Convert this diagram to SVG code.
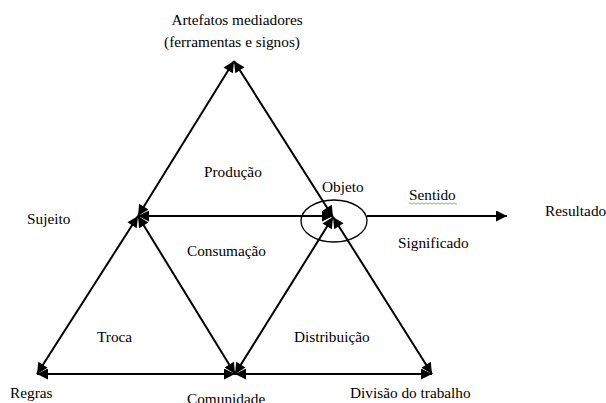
<svg xmlns="http://www.w3.org/2000/svg" width="606" height="403" viewBox="0 0 606 403">
<style>
.ln{stroke:#000;stroke-width:2;fill:none}
</style>
<defs>
<marker id="ah" viewBox="0 0 10 10" refX="10" refY="5" markerWidth="6" markerHeight="5.5" orient="auto-start-reverse" markerUnits="strokeWidth">
<path d="M0,0 L10,5 L0,10 z" fill="#000"/>
</marker>
</defs>
<rect width="606" height="403" fill="#fff"/>
<g id="connectors">
<line class="ln" x1="234" y1="61" x2="138" y2="216" marker-start="url(#ah)" marker-end="url(#ah)"/>
<line class="ln" x1="234" y1="61" x2="333" y2="217" marker-start="url(#ah)" marker-end="url(#ah)"/>
<line class="ln" x1="138" y1="216" x2="333" y2="216" marker-start="url(#ah)" marker-end="url(#ah)"/>
<line class="ln" x1="138" y1="216" x2="37" y2="374" marker-start="url(#ah)" marker-end="url(#ah)"/>
<line class="ln" x1="138" y1="216" x2="235" y2="374" marker-start="url(#ah)" marker-end="url(#ah)"/>
<line class="ln" x1="333" y1="217" x2="235" y2="374" marker-start="url(#ah)" marker-end="url(#ah)"/>
<line class="ln" x1="333" y1="217" x2="432" y2="374" marker-start="url(#ah)" marker-end="url(#ah)"/>
<line class="ln" x1="37" y1="374" x2="235" y2="374" marker-start="url(#ah)" marker-end="url(#ah)"/>
<line class="ln" x1="235" y1="374" x2="432" y2="374" marker-start="url(#ah)" marker-end="url(#ah)"/>
<line class="ln" x1="367" y1="216" x2="507" y2="216" marker-end="url(#ah)"/>
</g>
<g font-family="'Liberation Serif', 'Times New Roman', Times, 'DejaVu Serif', serif" font-size="15.3" fill="#000">
<g id="artefatos">
<text x="237" y="25" text-anchor="middle">Artefatos mediadores</text>
<text x="232" y="47" text-anchor="middle">(ferramentas e signos)</text>
</g>
<g id="objeto">
<ellipse cx="334" cy="221" rx="33" ry="21" fill="none" stroke="#000" stroke-width="1.3"/>
<text x="322" y="192">Objeto</text>
</g>
<g id="sujeito"><text x="27" y="224">Sujeito</text></g>
<g id="regras"><text x="10" y="398">Regras</text></g>
<g id="comunidade"><text x="187" y="404">Comunidade</text></g>
<g id="divisao"><text x="350" y="398">Divisão do trabalho</text></g>
<g id="resultado"><text x="545" y="216">Resultado</text></g>
<g id="labels">
<text x="204" y="177">Produção</text>
<text x="409" y="200">Sentido</text>
<path d="M409,203.5 q1,-1.5 2,0 t2,0 t2,0 t2,0 t2,0 t2,0 t2,0 t2,0 t2,0 t2,0 t2,0 t2,0 t2,0 t2,0 t2,0 t2,0 t2,0 t2,0 t2,0 t2,0 t2,0 t2,0 t2,0 t2,0" fill="none" stroke="#4caf50" stroke-width="0.8"/>
<text x="398" y="248">Significado</text>
<text x="187" y="256">Consumação</text>
<text x="97" y="342">Troca</text>
<text x="294" y="342">Distribuição</text>
</g>
</g>
</svg>
